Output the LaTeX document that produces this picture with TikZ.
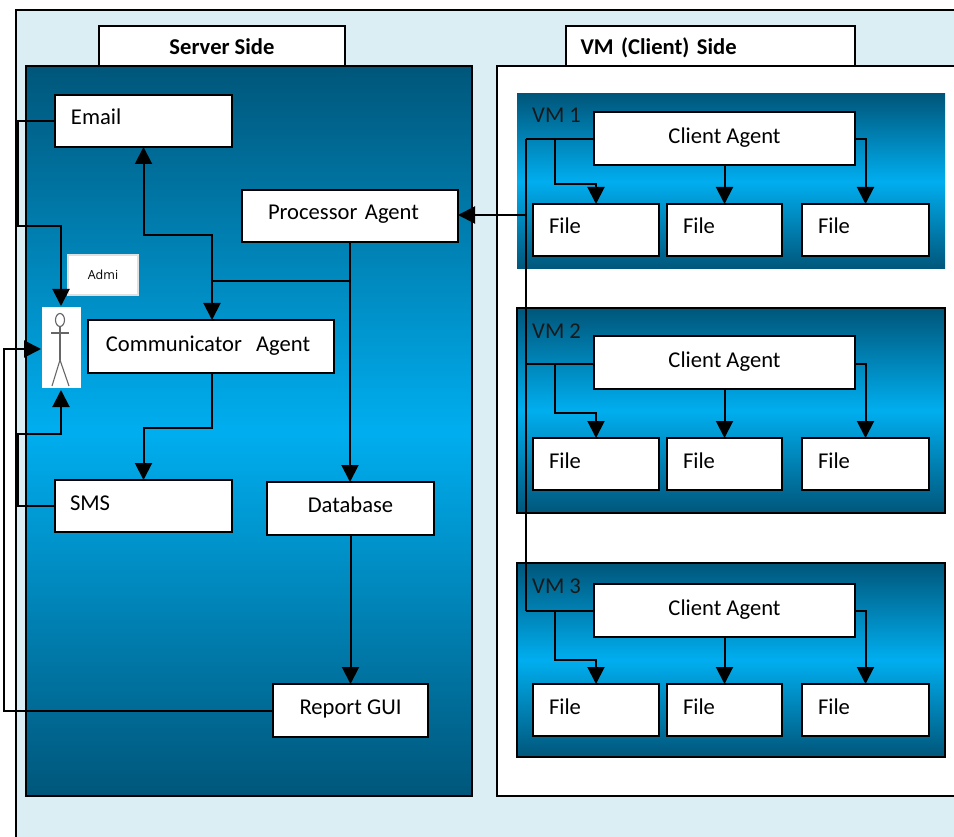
\documentclass[tikz,border=0pt]{standalone}
\usepackage{fontspec}
\setmainfont{Carlito}
\newfontfamily\admifont{Open Sans}
\usetikzlibrary{arrows.meta}
\definecolor{outerblue}{HTML}{DAEEF3}
\definecolor{darkblue}{HTML}{00567A}
\definecolor{brightblue}{HTML}{00AEEF}
\tikzset{
  base/.style={anchor=north west,inner sep=0pt,outer sep=0pt},
  panel/.style={base,top color=darkblue,bottom color=darkblue,middle color=brightblue},
  whitepanel/.style={base,draw=black,line width=2pt,fill=white},
  box/.style={base,draw=black,line width=2pt,fill=white,font=\fontsize{22.6}{26}\selectfont,text height=14pt,text depth=6pt,align=center},
  conn/.style={draw=black,line width=2pt},
  arr/.style={conn,-{Triangle[length=17pt,width=17pt]}},
  vmtext/.style={font=\fontsize{22.6}{26}\selectfont,text=black!90,inner sep=0pt},
  head/.style={base,draw=black,line width=2pt,fill=white,font=\bfseries\fontsize{22.6}{26}\selectfont,text height=14pt,text depth=6pt},
  stick/.style={draw=black!60,line width=1.1pt}
}
\begin{document}
\begin{tikzpicture}[x=1pt,y=-1pt]
\clip (0,0) rectangle (954,837);
\fill[white] (0,0) rectangle (954,837);
\node[base,draw=black,line width=2pt,fill=outerblue,minimum width=960pt,minimum height=840pt] (outer) at (16,10) {};
% headers
\node[head,minimum width=246pt,minimum height=42pt,align=center] (serverhead) at (99,26) {\raisebox{-4pt}{Server Side}};
\node[head,text width=274pt,inner xsep=7.5pt,minimum height=42pt,align=left] (vmhead) at (566,26) {\hspace*{7pt}\raisebox{-4pt}{VM (Client) Side}};
% panels
\node[panel,draw=black,line width=2pt,minimum width=446pt,minimum height=730pt] (server) at (26,66) {};
\node[whitepanel,minimum width=470pt,minimum height=730pt] (client) at (497,66) {};
\node[panel,minimum width=428pt,minimum height=175pt] (vm1) at (517,94) {};
\node[panel,draw=black,line width=1.5pt,minimum width=428pt,minimum height=205pt] (vm2) at (517,308) {};
\node[panel,draw=black,line width=1.5pt,minimum width=428pt,minimum height=194pt] (vm3) at (517,563) {};
\node[vmtext,anchor=base west] (vm1label) at (532,123) {VM 1};
\node[vmtext,anchor=base west] (vm2label) at (532,338) {VM 2};
\node[vmtext,anchor=base west] (vm3label) at (532,593) {VM 3};
% server nodes
\node[box,text width=161pt,inner xsep=8pt,minimum height=52pt,align=left] (email) at (55,95) {\hspace*{8pt}Email};
\node[box,text width=200pt,inner xsep=8pt,minimum height=52pt,align=left] (processor) at (242,190) {\hspace*{18pt}Processor Agent};
\node[box,minimum width=246pt,minimum height=53pt] (comm) at (88,320) {\raisebox{-1pt}{Communicator\hspace{9pt} Agent}\hspace{6pt}};
\node[box,text width=161pt,inner xsep=8pt,minimum height=52pt,align=left] (sms) at (55,480) {\hspace*{7pt}SMS};
\node[box,minimum width=167pt,minimum height=53pt] (database) at (267,482) {Database};
\node[box,minimum width=155pt,minimum height=53pt] (report) at (273,684) {Report GUI};
\node[base,draw=black!12,line width=1.5pt,fill=white,minimum width=70pt,minimum height=40pt,align=center,font=\admifont\fontsize{12.5}{14}\selectfont] (admi) at (68,255) {Admi};
\node[base,fill=white,minimum width=39pt,minimum height=81pt] (actor) at (42,307) {};
% actor figure
\draw[stick] (60,320) ellipse (4.5pt and 6.5pt);
\draw[stick] (51,333) -- (69,333);
\draw[stick] (60,326.5) -- (60,360);
\draw[stick] (60,360) -- (52,386);
\draw[stick] (60,360) -- (69,386);
% client agents and files
\foreach \n/\ca/\fy in {1/112/204,2/336/438,3/584/684}{
  \node[box,minimum width=261pt,minimum height=53pt] (ca\n) at (594,\ca) {\raisebox{-1pt}{Client Agent}};
  \node[box,text width=110pt,inner xsep=8pt,minimum height=52pt,align=left] (fa\n) at (533,\fy) {\hspace*{8pt}File};
  \node[box,text width=99pt,inner xsep=8pt,minimum height=52pt,align=left] (fb\n) at (667,\fy) {\hspace*{8pt}File};
  \node[box,text width=111pt,inner xsep=8pt,minimum height=52pt,align=left] (fc\n) at (802,\fy) {\hspace*{8pt}File};
}
% waypoints
\coordinate (emailbus) at (18,226);
\coordinate (smsbus) at (18,434);
\coordinate (reportbus) at (4,349);
\coordinate (split) at (350,281);
\coordinate (commup) at (212,281);
\coordinate (emailturn) at (212,235);
\coordinate (commdown) at (212,428);
\coordinate (actortop) at (61,306);
\coordinate (actorbot) at (61,390);
\coordinate (actorleft) at (41,349);
\coordinate (vmbus1) at (526,139);
\coordinate (vmbus2) at (526,364);
\coordinate (vmbus3) at (526,611);
\coordinate (procin) at (526,215);
% server connectors
\draw[arr] (email.west) -| (emailbus) -- (emailbus -| actortop) -- (actortop);
\draw[arr] (sms.west) -| (smsbus) -- (smsbus -| actorbot) -- (actorbot);
\draw[arr] (report.west) -| (reportbus) -- (actorleft);
\draw[arr] (processor.south -| split) -- (database.north -| split);
\draw[arr] (split) -- (commup) -- (commup |- comm.north);
\draw[arr] (commup) -- (emailturn) -- (emailturn -| email.south) -- (email.south);
\draw[arr] (comm.south -| commdown) -- (commdown) -- (commdown -| sms.north) -- (sms.north);
\draw[arr] (database.south -| report.north) -- (report.north);
% client connectors
\draw[conn] (vmbus1) -- (vmbus3);
\draw[arr] (procin) -- (procin -| processor.east);
\draw[conn] (ca1.west |- vmbus1) -- (vmbus1);
\draw[conn] (ca2.west |- vmbus2) -- (vmbus2);
\draw[conn] (ca3.west |- vmbus3) -- (vmbus3);
\draw[arr] (555,139) -- (555,184) -- (596,184) -- (fa1.north);
\draw[arr] (555,364) -- (555,413) -- (596,413) -- (fa2.north);
\draw[arr] (555,611) -- (555,660) -- (596,660) -- (fa3.north);
\foreach \n in {1,2,3}{
  \draw[arr] (ca\n.south -| fb\n.north) -- (fb\n.north);
}
\draw[arr] (ca1.east |- vmbus1) -| (fc1.north);
\draw[arr] (ca2.east |- vmbus2) -| (fc2.north);
\draw[arr] (ca3.east |- vmbus3) -| (fc3.north);
\end{tikzpicture}
\end{document}
